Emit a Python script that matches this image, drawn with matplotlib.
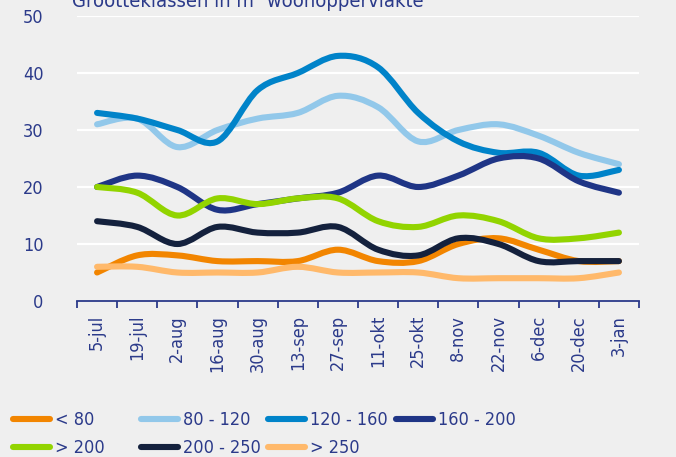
import numpy as np
import matplotlib
matplotlib.use("Agg")
import matplotlib.pyplot as plt
from matplotlib.path import Path
from matplotlib.patches import PathPatch
from matplotlib.lines import Line2D

plt.rcParams['font.family'] = ['DejaVu Sans']
plt.rcParams['font.stretch'] = 'condensed'

dates = ['5-jul', '19-jul', '2-aug', '16-aug', '30-aug', '13-sep', '27-sep',
         '11-okt', '25-okt', '8-nov', '22-nov', '6-dec', '20-dec', '3-jan']

lt80 = [5, 8, 8, 7, 7, 7, 9, 7, 7, 10, 11, 9, 7, 7]
s80_120 = [31, 32, 27, 30, 32, 33, 36, 34, 28, 30, 31, 29, 26, 24]
s120_160 = [33, 32, 30, 28, 37, 40, 43, 41, 33, 28, 26, 26, 22, 23]
s160_200 = [20, 22, 20, 16, 17, 18, 19, 22, 20, 22, 25, 25, 21, 19]
gt200 = [20, 19, 15, 18, 17, 18, 18, 14, 13, 15, 14, 11, 11, 12]
s200_250 = [14, 13, 10, 13, 12, 12, 13, 9, 8, 11, 10, 7, 7, 7]
gt250 = [6, 6, 5, 5, 5, 6, 5, 5, 5, 4, 4, 4, 4, 5]

labels = ['< 80', '80 - 120', '120 - 160', '160 - 200', '> 200', '200 - 250', '> 250']
series = [lt80, s80_120, s120_160, s160_200, gt200, s200_250, gt250]
colors = ['#f28500', '#92c8ea', '#0083c9', '#1f3586', '#92d400', '#14213d', '#ffb96b']

txt = '#2b3a8a'
bg = '#efefef'


def smooth_path(x, y):
    # excel-like smoothed line: cubic bezier through each point
    x = np.asarray(x, float)
    y = np.asarray(y, float)
    n = len(x)
    verts = [(x[0], y[0])]
    codes = [Path.MOVETO]
    for i in range(n - 1):
        i0 = max(i - 1, 0)
        i3 = min(i + 2, n - 1)
        c1 = (x[i] + (x[i + 1] - x[i0]) / 6, y[i] + (y[i + 1] - y[i0]) / 6)
        c2 = (x[i + 1] - (x[i3] - x[i]) / 6, y[i + 1] - (y[i3] - y[i]) / 6)
        verts += [c1, c2, (x[i + 1], y[i + 1])]
        codes += [Path.CURVE4] * 3
    return Path(verts, codes)


fig = plt.figure(figsize=(6.76, 4.57), dpi=100, facecolor=bg)
ax = fig.add_axes([77 / 676, 1 - 301 / 457, (639 - 77) / 676, (301 - 16) / 457])
ax.set_facecolor(bg)

xs = np.arange(len(dates))
for vals, c in zip(series, colors):
    p = PathPatch(smooth_path(xs, vals), fill=False, edgecolor=c, lw=4.4,
                  capstyle='round', joinstyle='round', zorder=3)
    ax.add_patch(p)

ax.set_xlim(-0.5, len(dates) - 0.5)
ax.set_ylim(0, 50)
ax.set_yticks([0, 10, 20, 30, 40, 50])
for g in [10, 20, 30, 40, 50]:
    ax.axhline(g, color='white', lw=1.6, zorder=1)

for s in ['top', 'right', 'left']:
    ax.spines[s].set_visible(False)
ax.spines['bottom'].set_color(txt)
ax.spines['bottom'].set_linewidth(1.3)

ax.set_xticks(xs)
ax.set_xticklabels(dates, rotation=90, va='top', ha='center')
ax.set_xticks(np.arange(-0.5, len(dates)), minor=True)
ax.tick_params(axis='x', which='major', length=0, pad=10, labelsize=13, labelcolor=txt)
ax.tick_params(axis='x', which='minor', length=5, width=1.3, color=txt, direction='out')
ax.tick_params(axis='y', length=0, pad=24, labelsize=13, labelcolor=txt)

fig.text(72 / 676, 1 - 7 / 457, 'Grootteklassen in m² woonoppervlakte', color=txt,
         fontsize=14.5, ha='left', va='baseline')

# legend: four equal-width columns, row-major order like the original
handles = [Line2D([], [], color=c, lw=4.4, solid_capstyle='round') for c in colors]
col_x = [13, 141, 268, 396]
for k, x0 in enumerate(col_x):
    idx = [i for i in (k, k + 4) if i < len(labels)]
    fig.legend([handles[i] for i in idx], [labels[i] for i in idx],
               loc='upper left', bbox_to_anchor=(x0 / 676, 1 - 411 / 457),
               frameon=False, fontsize=13, labelcolor=txt, borderpad=0,
               borderaxespad=0, handlelength=2.05, handletextpad=0.3,
               labelspacing=0.55)

fig.savefig('out.png', dpi=100, facecolor=bg)
